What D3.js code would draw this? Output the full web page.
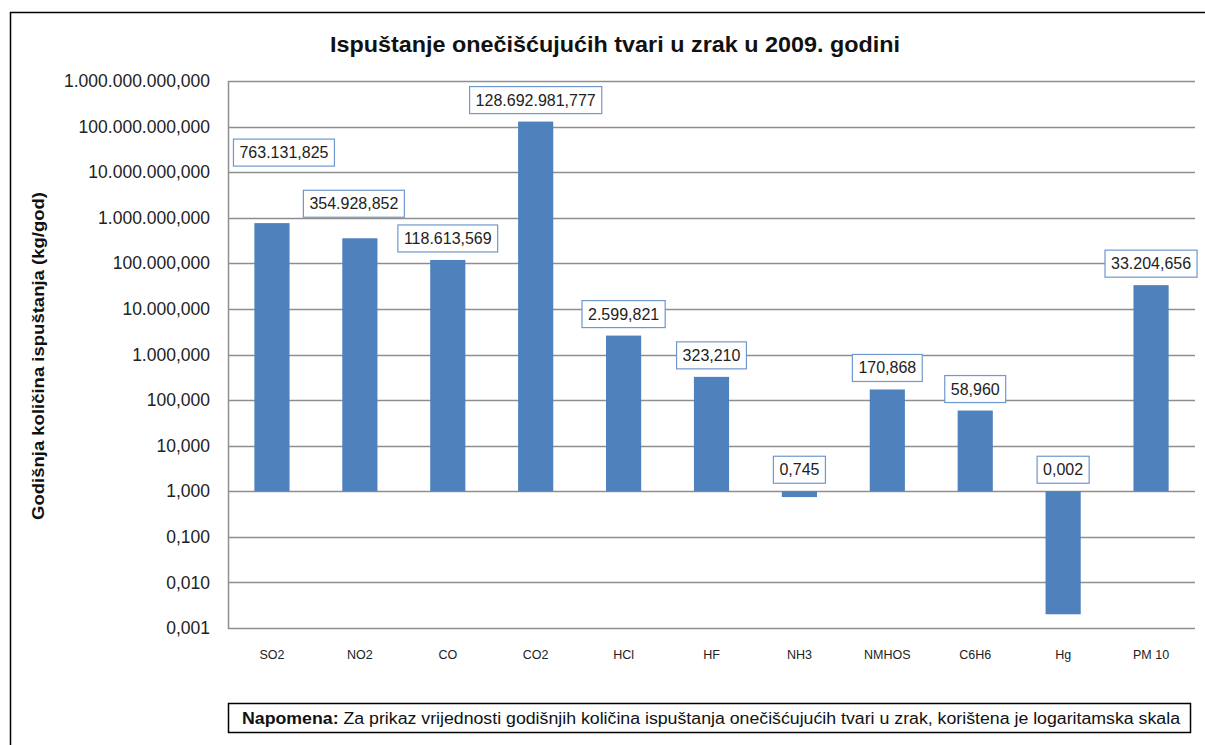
<!DOCTYPE html>
<html>
<head>
<meta charset="utf-8">
<script src="https://cdn.jsdelivr.net/npm/d3@7"></script>
<style>
  body { margin: 0; background: #fff; }
  text { font-family: "Liberation Sans", Arial, sans-serif; }
</style>
</head>
<body>
<script>
// data
var categories = ["SO2", "NO2", "CO", "CO2", "HCl", "HF", "NH3", "NMHOS", "C6H6", "Hg", "PM 10"];
var values = [763131.825, 354928.852, 118613.569, 128692981.777, 2599.821, 323.210, 0.745, 170.868, 58.960, 0.002, 33204.656];
var yTicks = [1e9, 1e8, 1e7, 1e6, 1e5, 1e4, 1e3, 100, 10, 1, 0.1, 0.01, 0.001];

var title = "Ispuštanje onečišćujućih tvari u zrak u 2009. godini";
var yTitle = "Godišnja količina ispuštanja (kg/god)";

(function () {
/* SVG INIT */
var W = 1205, H = 745;
var svg = d3.select("body").append("svg")
    .attr("width", W)
    .attr("height", H);

var hr = d3.formatLocale({decimal: ",", thousands: ".", grouping: [3], currency: ["", ""]});
var fmt = hr.format(",.3f");

var pLeft = 228, pRight = 1195, pTop = 81, pBottom = 628;

var x = d3.scaleBand().domain(categories).range([pLeft, pRight])
    .paddingInner(0.6).paddingOuter(0.3);
var y = d3.scaleLog().domain([0.001, 1e9]).range([pBottom, pTop]);

// outer frame
svg.append("rect")
    .attr("x", 10.5).attr("y", 12.5)
    .attr("width", W).attr("height", H)
    .style("fill", "none").style("stroke", "#000").style("stroke-width", 1.5);

// title
svg.append("text")
    .attr("x", 615).attr("y", 52)
    .attr("text-anchor", "middle")
    .attr("textLength", 570).attr("lengthAdjust", "spacingAndGlyphs")
    .style("font-size", "22px").style("font-weight", "bold").style("fill", "#111")
    .text(title);

/* GRID + AXIS */
svg.append("g").selectAll("line").data(yTicks).enter().append("line")
    .attr("x1", pLeft).attr("x2", pRight)
    .attr("y1", function(d){ return Math.round(y(d)) + 0.5; })
    .attr("y2", function(d){ return Math.round(y(d)) + 0.5; })
    .style("stroke", "#8e8e8e").style("stroke-width", 1.5);

svg.append("line")
    .attr("x1", pLeft + 0.5).attr("x2", pLeft + 0.5)
    .attr("y1", pTop).attr("y2", pBottom + 1)
    .style("stroke", "#8e8e8e").style("stroke-width", 1.5);

var yAxis = d3.axisLeft(y).tickValues(yTicks).tickFormat(fmt).tickSize(0).tickPadding(18);
var gy = svg.append("g").attr("transform", "translate(" + pLeft + ",0)").call(yAxis);
gy.select(".domain").remove();
gy.selectAll("text")
    .style("font-family", "'Liberation Sans', Arial, sans-serif")
    .style("font-size", "17.5px").style("fill", "#222");

var xAxis = d3.axisBottom(x).tickSize(0).tickPadding(0);
var gx = svg.append("g").attr("transform", "translate(0,650)").call(xAxis);
gx.select(".domain").remove();
gx.selectAll("text")
    .style("font-family", "'Liberation Sans', Arial, sans-serif")
    .style("font-size", "12.5px").style("fill", "#222");

// y title
svg.append("text")
    .attr("transform", "translate(44,356) rotate(-90)")
    .attr("text-anchor", "middle")
    .attr("textLength", 328).attr("lengthAdjust", "spacingAndGlyphs")
    .style("font-size", "17px").style("font-weight", "bold").style("fill", "#111")
    .text(yTitle);

/* BARS */
svg.append("g").selectAll("rect").data(values).enter().append("rect")
    .attr("x", function(d, i){ return x(categories[i]); })
    .attr("width", x.bandwidth())
    .attr("y", function(d){ return d >= 1 ? y(d) : y(1); })
    .attr("height", function(d){ return Math.abs(y(d) - y(1)); })
    .style("fill", "#4f81bd");

/* DATA LABELS */
var nudge = {"SO2": [12, -49], "NO2": [-6, -13]};
var lab = svg.append("g").selectAll("g").data(values).enter().append("g")
    .attr("transform", function(d, i){
        var n = nudge[categories[i]] || [0, 0];
        var cx = x(categories[i]) + x.bandwidth() / 2 + n[0];
        var by = (d >= 1 ? y(d) : y(1)) - 8 + n[1];
        return "translate(" + cx + "," + by + ")";
    });
lab.append("rect");
lab.append("text")
    .attr("y", -8)
    .attr("text-anchor", "middle")
    .style("font-size", "16px").style("fill", "#222")
    .text(function(d){ return fmt(d); });
lab.each(function(){
    var g = d3.select(this);
    var w = g.select("text").node().getComputedTextLength() + 12;
    g.select("rect")
        .attr("x", -w / 2).attr("y", -27)
        .attr("width", w).attr("height", 27)
        .style("fill", "#fff").style("stroke", "#6f98cc").style("stroke-width", 1.2);
});

/* NOTE */
svg.append("rect")
    .attr("x", 228.5).attr("y", 703.5)
    .attr("width", 962).attr("height", 29)
    .style("fill", "#fff").style("stroke", "#000").style("stroke-width", 1.5);
var note = svg.append("text")
    .attr("x", 242).attr("y", 724)
    .attr("textLength", 938).attr("lengthAdjust", "spacingAndGlyphs")
    .style("font-size", "16px").style("fill", "#111");
note.append("tspan").style("font-weight", "bold").text("Napomena:");
note.append("tspan").text(" Za prikaz vrijednosti godišnjih količina ispuštanja  onečišćujućih tvari  u zrak, korištena je logaritamska  skala");
})();
</script>
</body>
</html>
